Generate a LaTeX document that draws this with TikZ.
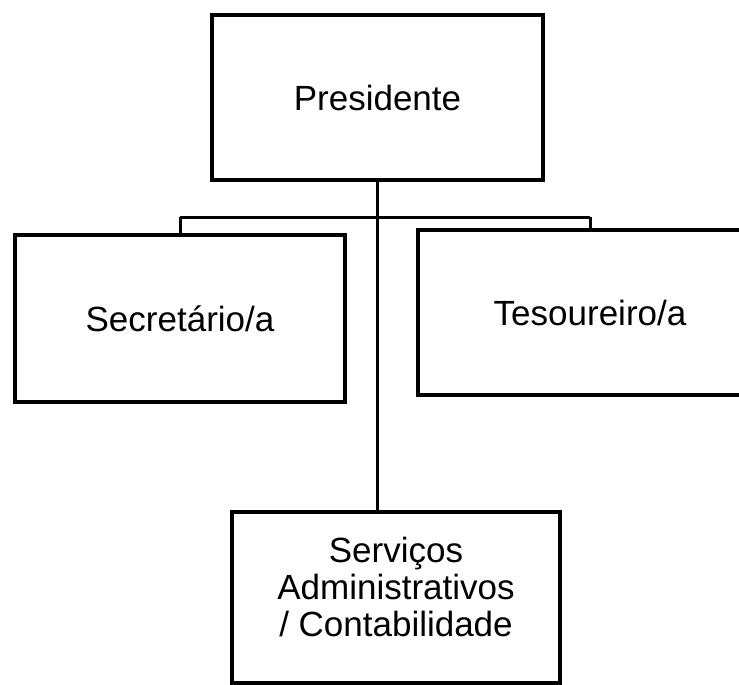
\documentclass[tikz,border=0pt]{standalone}
\usepackage{fontspec}
\setmainfont{Liberation Sans}
\usetikzlibrary{positioning}
\tikzset{
    cargo/.style={draw, line width=3.2pt, align=center, inner sep=0pt,
        font=\fontsize{35}{37}\selectfont},
    ligacao/.style={line width=3pt}
}
\begin{document}
\begin{tikzpicture}[x=1pt,y=-1pt]%Organograma
        \useasboundingbox (0,0) rectangle (739,685);

        \node[cargo, minimum width=331pt, minimum height=165pt] (pres) at (377.5,97.5) {Presidente};
        \node[cargo, minimum width=330pt, minimum height=167pt] (sec) at (180,318.5) {Secretário/a};
        \node[cargo, minimum width=344pt, minimum height=165pt] (tes) at (590,312.5) {Tesoureiro/a};
        \node[cargo, minimum width=328pt, minimum height=171pt] (serv) at (396,597.5)
            {Serviços\\Administrativos\\/ Contabilidade\rule[-22pt]{0pt}{0pt}};

        \coordinate (barra) at (377.5,217);
        \coordinate (esq) at (sec.north |- barra);
        \coordinate (dir) at (tes.north |- barra);

        \draw[ligacao] (esq) -- (dir);
        \draw[ligacao] (esq) -- (sec.north);
        \draw[ligacao] (dir) -- (tes.north);
        \draw[ligacao] (pres.south) -- (pres.south |- serv.north);
\end{tikzpicture}
\end{document}
